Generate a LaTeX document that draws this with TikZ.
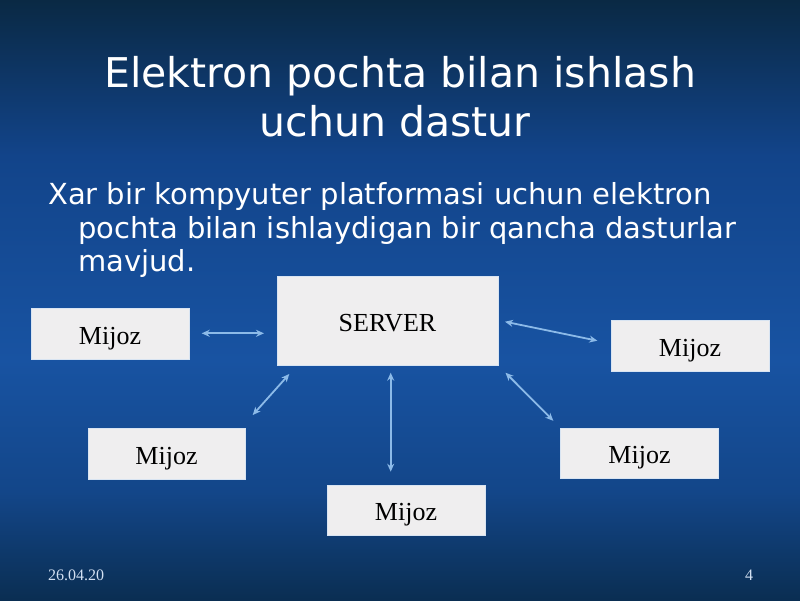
\documentclass[tikz,border=0pt]{standalone}
\usepackage{fontspec}
\setmainfont{DejaVu Sans}
\newfontfamily\boxfont{Liberation Serif}
\usetikzlibrary{arrows.meta}
\definecolor{bgA}{HTML}{0A2944}
\definecolor{bgB}{HTML}{12448A}
\definecolor{bgC}{HTML}{1853A2}
\definecolor{bgD}{HTML}{134689}
\definecolor{bgE}{HTML}{0A2E52}
\definecolor{boxfill}{HTML}{EFEEEF}
\definecolor{boxline}{HTML}{D8E4F2}
\definecolor{arrowcol}{HTML}{8CBAE8}
\definecolor{footcol}{HTML}{D2E0F2}
\pgfdeclareverticalshading{slidebg}{100bp}{%
  color(0bp)=(bgE); color(25bp)=(bgE); color(34bp)=(bgD); color(45bp)=(bgC); color(62bp)=(bgB); color(75bp)=(bgA); color(100bp)=(bgA)}
\tikzset{
  titletext/.style={font=\fontsize{41}{49}\selectfont, text=white, anchor=base, inner sep=0pt},
  bodytext/.style={font=\fontsize{29}{34}\selectfont, text=white, anchor=base west, inner sep=0pt},
  mbox/.style={draw=boxline, line width=1pt, fill=boxfill, inner sep=0pt, outer sep=0pt,
    font=\boxfont\fontsize{26}{30}\selectfont, text=black, text height=21pt, text depth=0pt},
  link/.style={draw=arrowcol, line width=1.8pt, {Stealth[length=8pt,width=7pt]}-{Stealth[length=8pt,width=7pt]}},
  foottext/.style={font=\boxfont\fontsize{16}{18}\selectfont, text=footcol, anchor=base, inner sep=0pt}
}
\begin{document}
\begin{tikzpicture}[x=1pt,y=-1pt]
\useasboundingbox (0,0) rectangle (800,600);
\shade[shading=slidebg] (0,0) rectangle (800,600);
% title
\node[titletext] (t1) at (400,87) {Elektron pochta bilan ishlash};
\node[titletext] (t2) at (395,136) {uchun dastur};
% body text
\node[bodytext] (b1) at (48,204) {Xar bir kompyuter platformasi uchun elektron};
\node[bodytext] (b2) at (78,238) {pochta bilan ishlaydigan bir qancha dasturlar};
\node[bodytext] (b3) at (78,271) {mavjud.};
% boxes
\node[mbox, minimum width=221pt, minimum height=89pt] (srv) at (387.5,321) {SERVER};
\node[mbox, minimum width=158pt, minimum height=51pt] (m1) at (110,333.5) {Mijoz};
\node[mbox, minimum width=158pt, minimum height=51pt] (m2) at (690,346) {Mijoz};
\node[mbox, minimum width=157pt, minimum height=51pt] (m3) at (166.5,453.5) {Mijoz};
\node[mbox, minimum width=158pt, minimum height=50pt] (m4) at (406,510) {Mijoz};
\node[mbox, minimum width=158pt, minimum height=50pt] (m5) at (639.5,453) {Mijoz};
% arrow end points (arrows float between the boxes)
\coordinate (a1s) at (201.7,333.3);
\coordinate (a1e) at (264,333.3);
\coordinate (a2s) at (505,321.7);
\coordinate (a2e) at (597.3,340.7);
\coordinate (a3s) at (289.3,374);
\coordinate (a3e) at (252.7,415);
\coordinate (a4s) at (390.7,372.7);
\coordinate (a4e) at (390.7,471.7);
\coordinate (a5s) at (505.5,372.7);
\coordinate (a5e) at (553.3,420.8);
\draw[link] (a1s) -- (a1e);
\draw[link] (a2s) -- (a2e);
\draw[link] (a3s) -- (a3e);
\draw[link] (a4s) -- (a4e);
\draw[link] (a5s) -- (a5e);
% footer
\node[foottext, anchor=base west] (date) at (48,580) {26.04.20};
\node[foottext] (num) at (749,580) {4};
\end{tikzpicture}
\end{document}
